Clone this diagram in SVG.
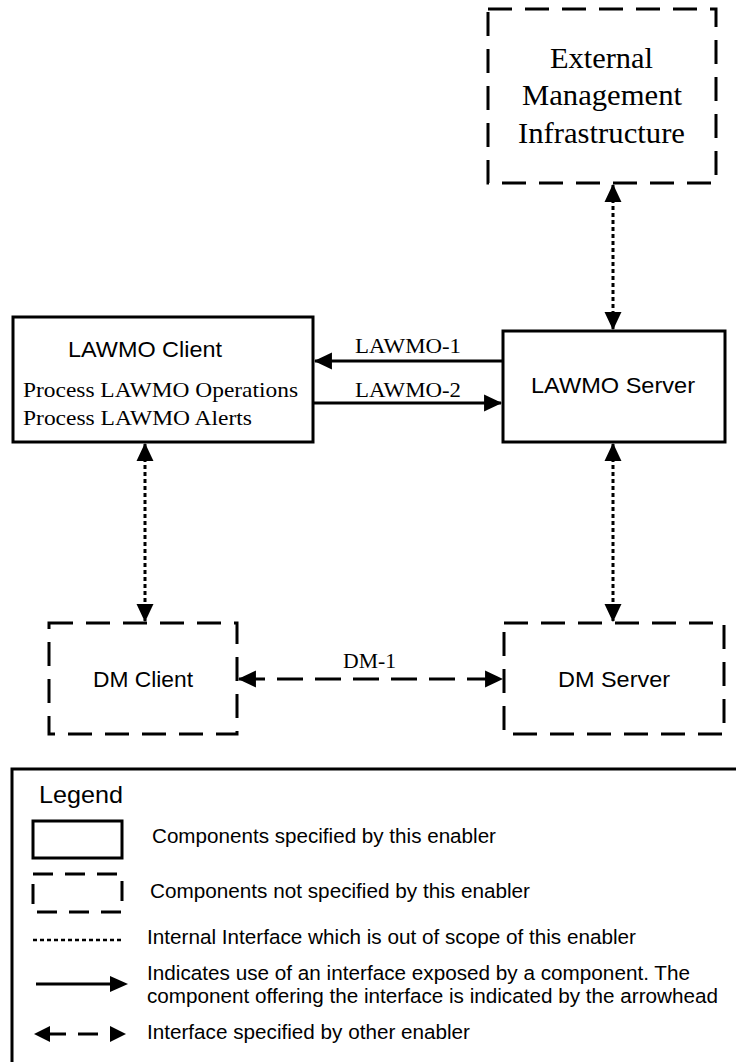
<svg xmlns="http://www.w3.org/2000/svg" width="736" height="1062" viewBox="0 0 736 1062">
<style>
.solid{fill:#fff;stroke:#000;stroke-width:3}
.dashbox{fill:#fff;stroke:#000;stroke-width:3;stroke-dasharray:24 13}
.dot{fill:none;stroke:#000;stroke-width:3;stroke-dasharray:4 3}
.ln{fill:none;stroke:#000;stroke-width:3}
.dsh{fill:none;stroke:#000;stroke-width:3;stroke-dasharray:26 12}
.serif{font-family:"Liberation Serif","Times New Roman",serif;fill:#000}
.sans{font-family:"Liberation Sans",Arial,sans-serif;fill:#000}
</style>
<defs>
<marker id="ah" markerUnits="userSpaceOnUse" markerWidth="18" markerHeight="18" refX="16" refY="8" orient="auto-start-reverse" viewBox="0 0 17 16">
<path d="M0,0 L17,8 L0,16 Z" fill="#000"/>
</marker>
</defs>
<rect width="736" height="1062" fill="#fff"/>

<g id="connectors">
<line class="dot" x1="613" y1="185" x2="613" y2="329" marker-start="url(#ah)" marker-end="url(#ah)"/>
<line class="ln" x1="503" y1="361" x2="315" y2="361" marker-end="url(#ah)"/>
<line class="ln" x1="313" y1="403" x2="501" y2="403" marker-end="url(#ah)"/>
<line class="dot" x1="145" y1="444" x2="145" y2="621" marker-start="url(#ah)" marker-end="url(#ah)"/>
<line class="dot" x1="613" y1="444" x2="613" y2="621" marker-start="url(#ah)" marker-end="url(#ah)"/>
<line class="dsh" x1="239" y1="679" x2="502" y2="679" marker-start="url(#ah)" marker-end="url(#ah)"/>
<text class="serif" x="355" y="353" font-size="22" textLength="106" lengthAdjust="spacingAndGlyphs">LAWMO-1</text>
<text class="serif" x="355" y="397" font-size="22" textLength="106" lengthAdjust="spacingAndGlyphs">LAWMO-2</text>
<text class="serif" x="343" y="668" font-size="21" textLength="53" lengthAdjust="spacingAndGlyphs">DM-1</text>
</g>

<g id="emi">
<rect class="dashbox" x="488" y="9" width="228" height="174"/>
<text class="serif" x="550" y="68" font-size="29" textLength="103" lengthAdjust="spacingAndGlyphs">External</text>
<text class="serif" x="522" y="105" font-size="29" textLength="160" lengthAdjust="spacingAndGlyphs">Management</text>
<text class="serif" x="518" y="143" font-size="29" textLength="167" lengthAdjust="spacingAndGlyphs">Infrastructure</text>
</g>

<g id="lawmo-client">
<rect class="solid" x="13" y="317" width="300" height="125"/>
<text class="sans" x="68" y="357" font-size="22.5" textLength="154" lengthAdjust="spacingAndGlyphs">LAWMO Client</text>
<text class="serif" x="23" y="397" font-size="22" textLength="275" lengthAdjust="spacingAndGlyphs">Process LAWMO Operations</text>
<text class="serif" x="23" y="425" font-size="22" textLength="229" lengthAdjust="spacingAndGlyphs">Process LAWMO Alerts</text>
</g>

<g id="lawmo-server">
<rect class="solid" x="503" y="331" width="222" height="111"/>
<text class="sans" x="531" y="393" font-size="22.5" textLength="164" lengthAdjust="spacingAndGlyphs">LAWMO Server</text>
</g>

<g id="dm-client">
<rect class="dashbox" x="49" y="623" width="188" height="111"/>
<text class="sans" x="93" y="687" font-size="22.5" textLength="100" lengthAdjust="spacingAndGlyphs">DM Client</text>
</g>

<g id="dm-server">
<rect class="dashbox" x="504" y="623" width="220" height="111"/>
<text class="sans" x="558" y="687" font-size="22.5" textLength="112" lengthAdjust="spacingAndGlyphs">DM Server</text>
</g>

<g id="legend">
<path class="ln" d="M12,1062 L12,769 L736,769"/>
<text class="sans" x="39" y="803" font-size="24.5" textLength="84" lengthAdjust="spacingAndGlyphs">Legend</text>
<rect class="solid" x="33" y="821" width="89" height="37"/>
<text class="sans" x="152" y="843" font-size="20.5" textLength="344" lengthAdjust="spacingAndGlyphs">Components specified by this enabler</text>
<rect x="33" y="874" width="89" height="38" fill="none" stroke="#000" stroke-width="3" stroke-dasharray="20 12"/>
<text class="sans" x="150" y="898" font-size="20.5" textLength="380" lengthAdjust="spacingAndGlyphs">Components not specified by this enabler</text>
<line x1="33" y1="940" x2="121" y2="940" stroke="#000" stroke-width="2.5" stroke-dasharray="4 3"/>
<text class="sans" x="147" y="944" font-size="20.5" textLength="489" lengthAdjust="spacingAndGlyphs">Internal Interface which is out of scope of this enabler</text>
<line class="ln" x1="36" y1="984" x2="112" y2="984"/>
<path d="M110,976 L128,984 L110,992 Z" fill="#000"/>
<text class="sans" x="147" y="980" font-size="20.5" textLength="543" lengthAdjust="spacingAndGlyphs">Indicates use of an interface exposed by a component. The</text>
<text class="sans" x="147" y="1003" font-size="20.5" textLength="571" lengthAdjust="spacingAndGlyphs">component offering the interface is indicated by the arrowhead</text>
<path d="M34,1034 L50,1026 L50,1042 Z" fill="#000"/>
<line class="ln" x1="48" y1="1034" x2="66" y2="1034"/>
<line class="ln" x1="78" y1="1034" x2="98" y2="1034"/>
<path d="M110,1026 L126,1034 L110,1042 Z" fill="#000"/>
<text class="sans" x="147" y="1039" font-size="20.5" textLength="323" lengthAdjust="spacingAndGlyphs">Interface specified by other enabler</text>
</g>
</svg>
